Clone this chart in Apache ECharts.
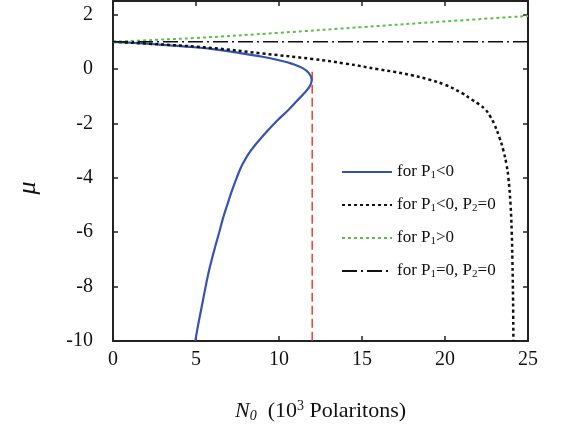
<!DOCTYPE html>
<html>
<head>
<meta charset="utf-8">
<script src="https://cdn.jsdelivr.net/npm/echarts@6/dist/echarts.min.js"></script>
<style>
  html, body { margin: 0; padding: 0; background: #fff; }
  #chart { width: 563px; height: 429px; }
</style>
</head>
<body>
<div id="chart"></div>
<script>
// curve for P1<0 (turns back at N0 ~ 12)
var p1Neg = [
  [0, 1.0], [1.5, 0.95], [3, 0.89], [4.5, 0.82], [6, 0.73], [7.5, 0.6], [9, 0.45],
  [10, 0.32], [10.8, 0.19], [11.4, 0.04], [11.8, -0.15], [11.97, -0.4],
  [11.85, -0.64], [11.5, -0.9], [11.1, -1.16], [10.58, -1.5], [9.88, -1.9],
  [9.12, -2.4], [8.3, -3.0], [7.8, -3.5], [7.45, -4.0], [7.15, -4.5],
  [6.88, -5.0], [6.62, -5.5], [6.4, -6.0], [6.17, -6.5], [5.95, -7.0],
  [5.75, -7.5], [5.58, -8.0], [5.42, -8.5], [5.26, -9.0], [5.1, -9.5], [4.96, -10.0]
];
// P1<0, P2=0
var p1NegP2Zero = [
  [0, 1.0], [3, 0.9], [6, 0.77], [9, 0.57], [12, 0.37], [14, 0.2], [16, -0.01],
  [17, -0.11], [18, -0.23], [19, -0.38], [20, -0.58], [21, -0.88],
  [21.6, -1.12], [22.05, -1.3], [22.45, -1.5], [22.73, -1.75], [22.95, -2.0],
  [23.27, -2.5], [23.52, -3.0], [23.7, -3.5], [23.82, -4.0], [23.95, -5.0],
  [24.02, -6.0], [24.06, -7.0], [24.1, -8.5], [24.12, -10.0]
];
// P1>0
var p1Pos = [
  [0, 1.0], [2.5, 1.07], [5, 1.14], [10, 1.33], [15, 1.54], [20, 1.75], [25, 1.95]
];
// P1=0, P2=0
var p1ZeroP2Zero = [[0, 1.0], [25, 1.0]];
// red marker line at N0 = 12
var limitLine = [[12, -0.1], [12, -10]];

var xTicks = [0, 5, 10, 15, 20, 25];
var yTicks = [-10, -8, -6, -4, -2, 0, 2];

var legendNames = ["P1<0", "P1<0, P2=0", "P1>0", "P1=0, P2=0"];

var serif = "Liberation Serif";
var axisColor = "#222";

function legendText(name) {
  // turn P1 / P2 into P with subscript
  var s = "{a|for }";
  var parts = name.split(/(P[12])/);
  parts.forEach(function (p) {
    if (!p) return;
    if (p === "P1" || p === "P2") {
      s += "{a|P}{s|" + p.charAt(1) + "}";
    } else {
      s += "{a|" + p + "}";
    }
  });
  return s;
}

var chart = echarts.init(document.getElementById("chart"), null, { renderer: "canvas" });

function frameAxis() {
  return {
    axisLine: { show: true, onZero: false, lineStyle: { color: axisColor, width: 2 } },
    axisTick: { show: true, inside: true, length: 5, lineStyle: { color: axisColor, width: 1.5 } },
    splitLine: { show: false }
  };
}

var option = {
  animation: false,
  backgroundColor: "#fff",
  grid: { left: 113, right: 35, top: 1, bottom: 88 },
  legend: {
    orient: "vertical",
    left: 336,
    top: 158,
    itemWidth: 50,
    itemHeight: 14,
    itemGap: 15,
    itemStyle: { opacity: 0 },
    data: legendNames,
    formatter: legendText,
    textStyle: {
      color: "#111",
      rich: {
        a: { fontFamily: serif, fontSize: 17, color: "#111", lineHeight: 18 },
        s: { fontFamily: serif, fontSize: 11, color: "#111", padding: [7, 0, 0, 0], lineHeight: 18 }
      }
    }
  },
  xAxis: [
    Object.assign(frameAxis(), {
      type: "value",
      position: "bottom",
      min: 0, max: 25, interval: 5,
      axisLabel: { fontFamily: serif, fontSize: 20, color: "#111", margin: 9 },
      name: "{i|N}{sub|0}{n|  (10}{sup|3}{n| Polaritons)}",
      nameLocation: "middle",
      nameGap: 58,
      nameTextStyle: {
        rich: {
          i: { fontFamily: serif, fontStyle: "italic", fontSize: 22, color: "#111" },
          sub: { fontFamily: serif, fontStyle: "italic", fontSize: 14, color: "#111", padding: [10, 0, 0, 0] },
          n: { fontFamily: serif, fontSize: 22, color: "#111" },
          sup: { fontFamily: serif, fontSize: 14, color: "#111", padding: [0, 0, 10, 0] }
        }
      }
    }),
    Object.assign(frameAxis(), {
      type: "value",
      position: "top",
      min: 0, max: 25, interval: 5,
      axisLabel: { show: false }
    })
  ],
  yAxis: [
    Object.assign(frameAxis(), {
      type: "value",
      position: "left",
      min: -10, max: 2.5, interval: 2,
      axisLabel: { fontFamily: serif, fontSize: 20, color: "#111", margin: 20, showMaxLabel: false }
    }),
    Object.assign(frameAxis(), {
      type: "value",
      position: "right",
      min: -10, max: 2.5, interval: 2,
      axisLabel: { show: false }
    })
  ],
  graphic: [
    {
      type: "text",
      x: 28, y: 188,
      rotation: Math.PI / 2,
      style: {
        text: "\u03bc",
        fontFamily: serif, fontStyle: "italic", fontSize: 26, fill: "#111",
        align: "center", verticalAlign: "middle"
      }
    }
  ],
  series: [
    {
      name: "limit",
      type: "line",
      data: limitLine,
      symbol: "none",
      lineStyle: { color: "#e8432a", width: 1.5, type: [9, 4] },
      silent: true
    },
    {
      name: legendNames[0],
      type: "line",
      data: p1Neg,
      symbol: "none",
      smooth: 0.4,
      lineStyle: { color: "#3553b0", width: 2.2 },
      itemStyle: { color: "#3553b0" }
    },
    {
      name: legendNames[1],
      type: "line",
      data: p1NegP2Zero,
      symbol: "none",
      smooth: 0.4,
      lineStyle: { color: "#111", width: 2.5, type: [3, 3] },
      itemStyle: { color: "#111" }
    },
    {
      name: legendNames[2],
      type: "line",
      data: p1Pos,
      symbol: "none",
      smooth: 0.4,
      lineStyle: { color: "#5cbf4a", width: 2, type: [3, 3] },
      itemStyle: { color: "#5cbf4a" }
    },
    {
      name: legendNames[3],
      type: "line",
      data: p1ZeroP2Zero,
      symbol: "none",
      lineStyle: { color: "#111", width: 1.5, type: [15, 4, 2, 4] },
      itemStyle: { color: "#111" }
    }
  ]
};

chart.setOption(option);
window.addEventListener("resize", chart.resize);
</script>
</body>
</html>
